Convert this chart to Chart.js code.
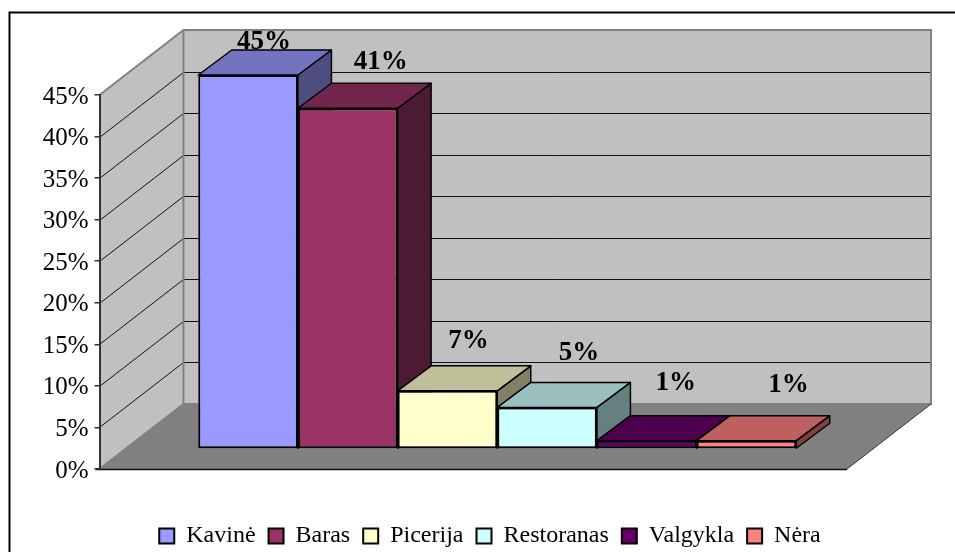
<!DOCTYPE html>
<html><head><meta charset="utf-8">
<style>html,body{margin:0;padding:0;background:#fff;overflow:hidden}#w{position:relative;width:955px;height:552px}</style>
<script src="https://cdn.jsdelivr.net/npm/chart.js@4"></script></head>
<body><div id="w"><canvas id="c" width="955" height="552"></canvas></div>
<script>
const categories = ['Kavinė','Baras','Picerija','Restoranas','Valgykla','Nėra'];
const values = [45,41,7,5,1,1];
const fills = ['#9999FF','#993366','#FFFFCC','#CCFFFF','#660066','#FF8080'];
const tops = ['#7373BF','#73264D','#BFBF99','#99BFBF','#4D004D','#BF6060'];
const sides = ['#4D4D80','#4D1A33','#808066','#668080','#330033','#804040'];
const yTicks = [0,5,10,15,20,25,30,35,40,45];
// label offset from the top centre of each bar's front face
const labelNudge = [[16,-33],[33,-46],[21,-50],[32,-54],[29,-58],[42,-56]];

const WALL = {dx:84, dy:-65};
const BAR_SHIFT = {dx:24, dy:-20};
const BAR_DEPTH = {dx:33.5, dy:-25};
const FONT = 'Liberation Serif, Times New Roman, serif';

function poly(ctx, pts, fill, stroke, lw){
  ctx.beginPath();
  pts.forEach((p,i)=> i?ctx.lineTo(p[0],p[1]):ctx.moveTo(p[0],p[1]));
  ctx.closePath();
  if(fill){ctx.fillStyle=fill;ctx.fill();}
  if(stroke){ctx.strokeStyle=stroke;ctx.lineWidth=lw;ctx.lineJoin='round';ctx.stroke();}
}
const threeD = {
  id:'threeD',
  afterLayout(chart){
    const l = chart.legend;
    l.top += 6; l.bottom += 6; l.left += 66.5; l.right += 66.5;
  },
  beforeDraw(chart){
    const {ctx,chartArea:a,scales:{y}} = chart;
    const {dx,dy} = WALL;
    ctx.save();
    ctx.strokeStyle='#000';ctx.lineWidth=2;
    ctx.strokeRect(9.5,12.5,1200,800);
    const L=a.left,R=a.right,B=a.bottom,T=a.top;
    poly(ctx,[[L,B],[R,B],[R+dx,B+dy],[L+dx,B+dy]],'#808080',null);
    poly(ctx,[[L,B],[L+dx,B+dy],[L+dx,T+dy],[L,T]],'#C0C0C0',null);
    poly(ctx,[[L+dx,B+dy],[R+dx,B+dy],[R+dx,T+dy],[L+dx,T+dy]],'#C0C0C0',null);
    ctx.strokeStyle='#111';ctx.lineWidth=1;
    yTicks.slice(1,-1).forEach(v=>{
      const p=Math.round(y.getPixelForValue(v))+0.5;
      ctx.beginPath();ctx.moveTo(L,p);ctx.lineTo(L+dx,p+dy);ctx.lineTo(R+dx,p+dy);ctx.stroke();
    });
    ctx.strokeStyle='#808080';ctx.lineWidth=2;
    ctx.beginPath();ctx.moveTo(L,T);ctx.lineTo(L+dx,T+dy);ctx.lineTo(R+dx,T+dy);ctx.lineTo(R+dx,B+dy);ctx.lineTo(L+dx,B+dy);ctx.lineTo(L,B);ctx.moveTo(L+dx,B+dy);ctx.lineTo(L+dx,T+dy);ctx.stroke();
    ctx.strokeStyle='#333';ctx.lineWidth=1;
    ctx.beginPath();ctx.moveTo(R,B);ctx.lineTo(R+dx,B+dy);ctx.stroke();
    ctx.strokeStyle='#111';ctx.lineWidth=1.5;
    ctx.beginPath();ctx.moveTo(L-4,B+0.5);ctx.lineTo(R,B+0.5);ctx.stroke();
    ctx.restore();
  },
  beforeDatasetsDraw(chart){
    const ctx=chart.ctx;
    ctx.save();
    ctx.font='bold 27px '+FONT;ctx.fillStyle='#000';ctx.textAlign='center';ctx.textBaseline='middle';
    values.forEach((val,i)=>{
      const el=chart.getDatasetMeta(i).data[0];
      ctx.fillText(val+'%',el.x+BAR_SHIFT.dx+labelNudge[i][0],el.y+BAR_SHIFT.dy+labelNudge[i][1]);
    });
    ctx.restore();
    ctx.save();
    ctx.translate(BAR_SHIFT.dx,BAR_SHIFT.dy);
    values.forEach((val,i)=>{
      const el=chart.getDatasetMeta(i).data[0];
      const l=el.x-el.width/2,r=el.x+el.width/2,t=el.y,b=el.base;
      const {dx,dy}=BAR_DEPTH;
      poly(ctx,[[r,b],[r+dx,b+dy],[r+dx,t+dy],[r,t]],sides[i],'#000',1.5);
      poly(ctx,[[l,t],[r,t],[r+dx,t+dy],[l+dx,t+dy]],tops[i],'#000',1.5);
    });
  },
  afterDatasetsDraw(chart){ chart.ctx.restore(); }
};

new Chart(document.getElementById('c'),{
  type:'bar',
  data:{labels:[''],datasets:categories.map((name,i)=>({
    label:name,data:[values[i]],backgroundColor:fills[i],borderColor:'#000',borderWidth:2,borderSkipped:false,
    barPercentage:1,categoryPercentage:0.8,clip:false
  }))},
  options:{
    responsive:false,animation:false,events:[],
    layout:{padding:{top:95,right:108,left:0,bottom:0}},
    plugins:{
      tooltip:{enabled:false},title:{display:false},
      legend:{display:true,position:'bottom',labels:{
        boxWidth:15,boxHeight:15,padding:13,color:'#000',font:{family:FONT,size:24}
      }}
    },
    scales:{
      x:{display:true,grid:{display:false},border:{display:false},ticks:{display:false},
        afterFit(s){s.height=36;}},
      y:{min:0,max:45,
        afterFit(s){s.width=99.5;},
        grid:{drawOnChartArea:false,drawTicks:true,tickLength:5,color:'#333',lineWidth:1.5},
        border:{display:true,color:'#333',width:2},
        ticks:{stepSize:5,padding:6,labelOffset:2,color:'#000',font:{family:FONT,size:25},callback:v=>v+'%'}
      }
    }
  },
  plugins:[threeD]
});
</script></body></html>
